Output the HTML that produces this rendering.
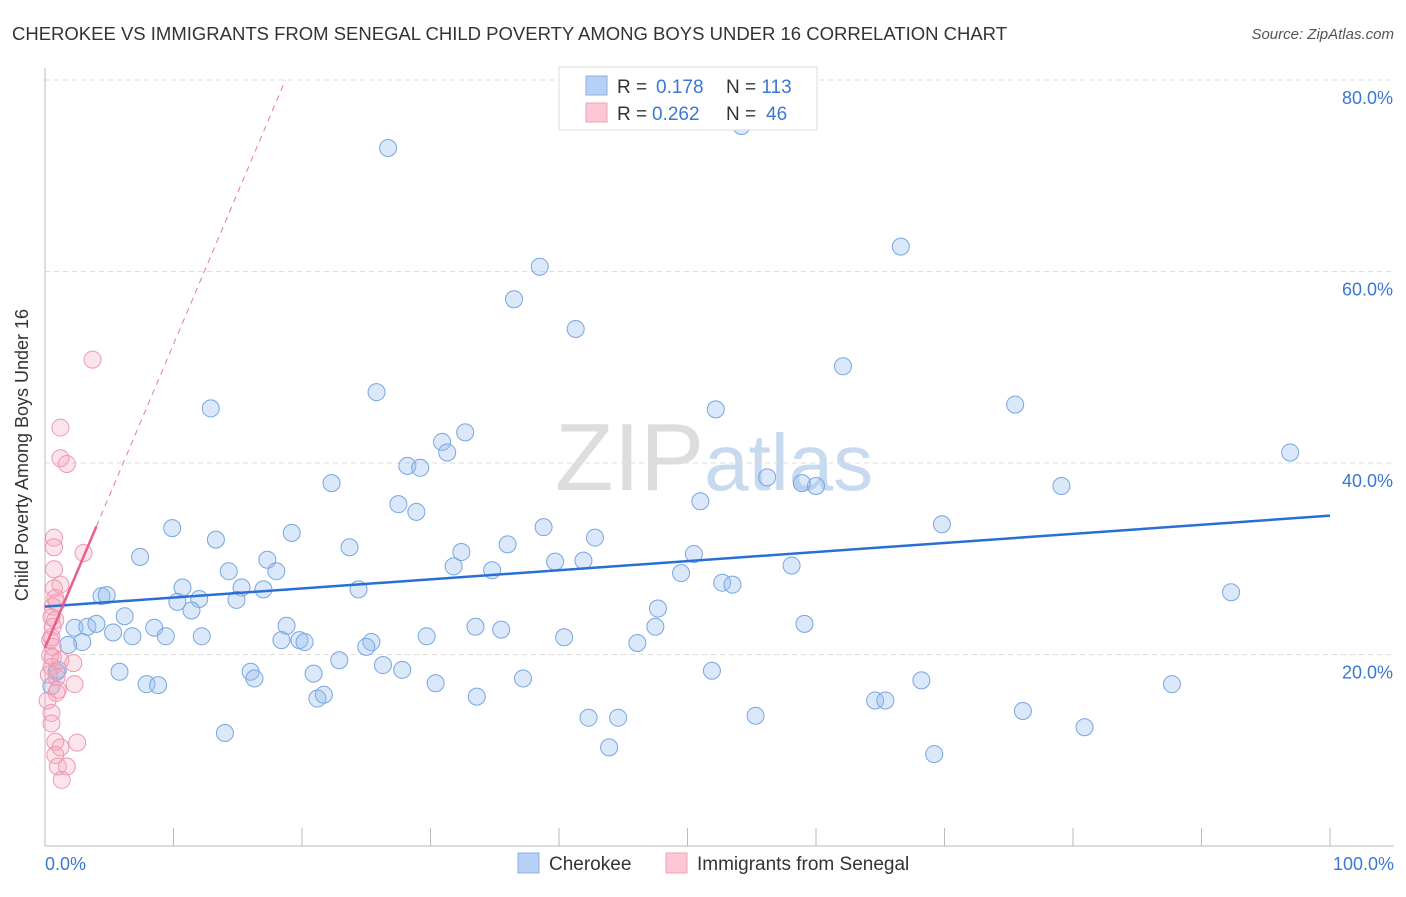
<!DOCTYPE html>
<html><head><meta charset="utf-8"><style>
body{margin:0;background:#fff;font-family:"Liberation Sans",sans-serif}
svg text{font-family:"Liberation Sans",sans-serif}
</style></head><body>
<svg id="chart" width="1406" height="892" viewBox="0 0 1406 892">
<text x="12" y="40" font-size="18" fill="#333" textLength="995" lengthAdjust="spacingAndGlyphs">CHEROKEE VS IMMIGRANTS FROM SENEGAL CHILD POVERTY AMONG BOYS UNDER 16 CORRELATION CHART</text>
<text x="1394" y="39" font-size="15" fill="#555" text-anchor="end" font-style="italic">Source: ZipAtlas.com</text>
<text x="714" y="490" font-size="96" fill="#ddd" text-anchor="middle" font-family="Liberation Serif">ZIP<tspan fill="#c8daf0" font-family="Liberation Sans" font-size="80">atlas</tspan></text>
<g id="grid"></g>
<g id="axes"></g>
<g id="points"></g>
<g id="trend"></g>
<text x="28" y="455" font-size="18" fill="#333" text-anchor="middle" transform="rotate(-90 28 455)">Child Poverty Among Boys Under 16</text>
<g>
<rect x="559" y="67" width="258" height="63" fill="#fff" stroke="#ddd"/>
<rect x="586" y="76" width="21" height="19" fill="#b8d0f5" stroke="#8ab0e8"/>
<rect x="586" y="103" width="21" height="19" fill="#fcc8d6" stroke="#f0a0b8"/>
<text x="617" y="93" font-size="19" fill="#333">R = <tspan fill="#3a78d4" x="656">0.178</tspan><tspan x="726" fill="#333">N = </tspan><tspan fill="#3a78d4">113</tspan></text>
<text x="617" y="120" font-size="19" fill="#333">R = <tspan fill="#3a78d4" x="652">0.262</tspan><tspan x="726" fill="#333">N = </tspan><tspan fill="#3a78d4" x="766">46</tspan></text>
</g>
<g>
<rect x="518" y="853" width="21" height="20" fill="#b8d0f5" stroke="#8ab0e8"/>
<text x="549" y="870" font-size="19" fill="#333">Cherokee</text>
<rect x="666" y="853" width="21" height="20" fill="#fcc8d6" stroke="#f0a0b8"/>
<text x="697" y="870" font-size="19" fill="#333">Immigrants from Senegal</text>
</g>
</svg>
<script>
const xTicks=[0,10,20,30,40,50,60,70,80,90,100];
const yTicks=[20,40,60,80];
const blueX=[26.7,54.2,38.5,66.6,36.5,41.3,62.1,25.8,12.9,52.2,75.5,30.9,31.3,32.7,28.2,29.2,96.9,22.3,56.2,58.9,60.0,79.1,51.0,27.5,28.9,9.9,19.2,38.8,69.8,13.3,23.7,36.0,42.8,7.4,32.4,17.3,31.8,39.7,41.9,50.5,14.3,18.0,34.8,49.5,58.1,10.7,15.3,24.4,17.0,52.7,53.5,92.3,4.4,4.8,10.3,12.0,14.9,11.4,47.7,6.2,2.3,3.3,4.0,5.3,8.5,18.8,33.5,35.5,59.1,6.8,9.4,12.2,2.9,29.7,1.8,18.4,19.8,20.2,25.4,25.0,40.4,47.5,46.1,22.9,26.3,5.8,16.0,16.3,20.9,27.8,37.2,51.9,68.2,87.7,7.9,8.8,30.4,21.2,21.7,33.6,64.6,65.4,14.0,42.3,44.6,55.3,76.1,80.9,43.9,69.2,0.5,0.9,1.0];
const blueY=[72.9,75.2,60.5,62.6,57.1,54.0,50.1,47.4,45.7,45.6,46.1,42.2,41.1,43.2,39.7,39.5,41.1,37.9,38.5,37.9,37.6,37.6,36.0,35.7,34.9,33.2,32.7,33.3,33.6,32.0,31.2,31.5,32.2,30.2,30.7,29.9,29.2,29.7,29.8,30.5,28.7,28.7,28.8,28.5,29.3,27.0,27.0,26.8,26.8,27.5,27.3,26.5,26.1,26.2,25.5,25.8,25.7,24.6,24.8,24.0,22.8,22.9,23.2,22.3,22.8,23.0,22.9,22.6,23.2,21.9,21.9,21.9,21.3,21.9,21.0,21.5,21.5,21.3,21.3,20.8,21.8,22.9,21.2,19.4,18.9,18.2,18.2,17.5,18.0,18.4,17.5,18.3,17.3,16.9,16.9,16.8,17.0,15.4,15.8,15.6,15.2,15.2,11.8,13.4,13.4,13.6,14.1,12.4,10.3,9.6,16.7,18.2,18.4];
const pinkX=[3.7,1.2,1.2,1.7,0.7,0.7,3.0,0.7,1.2,0.7,0.8,0.6,0.5,0.6,0.5,0.6,0.6,0.5,2.2,0.9,2.3,0.9,0.5,0.5,0.8,1.2,2.5,0.8,1.0,1.7,1.3,0.4,0.8,0.2,1.0,0.4,0.9,0.3,1.2];
const pinkY=[50.8,43.7,40.5,39.9,32.2,31.2,30.6,28.9,27.3,26.9,25.9,25.0,23.9,22.9,21.8,20.8,19.7,18.7,19.1,17.6,16.9,16.0,13.9,12.8,10.9,10.3,10.8,9.5,8.3,8.3,6.9,19.9,23.6,15.2,16.3,21.5,25.4,17.9,19.4];
const blueTrend=[25.0,34.5];
const pinkTrend=[20.7,3.17];
const NS='http://www.w3.org/2000/svg';
const sx=v=>45+v*12.85, sy=v=>846-v*9.575;
function mk(tag,attrs,parent){const e=document.createElementNS(NS,tag);for(const k in attrs)e.setAttribute(k,attrs[k]);document.getElementById(parent).appendChild(e);return e;}
yTicks.forEach(t=>{
 const l=mk('line',{x1:45,x2:1394,y1:sy(t),y2:sy(t),stroke:'#ddd','stroke-dasharray':'5,4'},'grid');
 
 
 const tx=mk('text',{x:1393,y:sy(t)+24,'font-size':18,fill:'#3a78d4','text-anchor':'end'},'grid');
 tx.textContent=t.toFixed(1)+'%';
 
 
});
const ax=mk('line',{x1:45,x2:1394,y1:846,y2:846,stroke:'#bbb'},'axes');


const ay=mk('line',{x1:45,x2:45,y1:68,y2:846,stroke:'#bbb'},'axes');


xTicks.forEach(t=>{
 const l=mk('line',{x1:sx(t),x2:sx(t),y1:828,y2:846,stroke:'#bbb'},'axes');
 
 
});
[[0,'0.0%','start',45],[100,'100.0%','end',1394]].forEach(a=>{
 const tx=mk('text',{x:a[3],y:870,'font-size':18,fill:'#3a78d4','text-anchor':a[2]},'axes');
 tx.textContent=a[1];
 
 
});
blueX.forEach((x,i)=>{
 const c=mk('circle',{cx:sx(x),cy:sy(blueY[i]),r:8.5,fill:'rgba(150,188,238,0.35)',stroke:'#78a6e2','stroke-width':1},'points');
 
 
});
pinkX.forEach((x,i)=>{
 const c=mk('circle',{cx:sx(x),cy:sy(pinkY[i]),r:8.5,fill:'rgba(245,165,190,0.3)',stroke:'#ee98b2','stroke-width':1},'points');
 
 
});
const bt=mk('line',{x1:sx(0),y1:sy(blueTrend[0]),x2:sx(100),y2:sy(blueTrend[1]),stroke:'#2a6fd6','stroke-width':2.5},'trend');


const pf=x=>pinkTrend[0]+pinkTrend[1]*x;
const pd=mk('line',{x1:sx(4),y1:sy(pf(4)),x2:sx(18.7),y2:sy(pf(18.7)),stroke:'#e8799a','stroke-width':1,'stroke-dasharray':'6,5'},'trend');


const ps=mk('line',{x1:sx(0),y1:sy(pf(0)),x2:sx(4),y2:sy(pf(4)),stroke:'#e8608a','stroke-width':2.5},'trend');


</script>
</body></html>
